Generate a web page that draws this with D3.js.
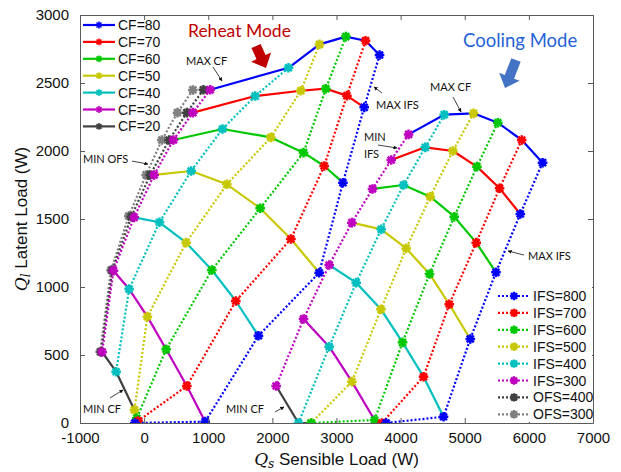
<!DOCTYPE html>
<html>
<head>
<meta charset="utf-8">
<script src="https://cdn.jsdelivr.net/npm/d3@7"></script>
<style>
  body { margin: 0; background: #fff; }
  svg { display: block; }
</style>
</head>
<body>
<svg id="chart"></svg>
<script>
// CF levels, same order as the points in every series below
const cfLevels = [80, 70, 60, 50, 40, 30, 20];

// Reheat mode: [Qs, Ql] for CF=80 ... CF=20
const reheatOFS300 = [[760, 2449], [520, 2282], [276, 2081], [31, 1824], [-240, 1522], [-515, 1125], [-686, 524]];
const reheatOFS400 = [[925, 2450], [666, 2282], [390, 2081], [94, 1824], [-200, 1517], [-497, 1122], [-670, 524]];
const reheatIFS300 = [[1030, 2450], [760, 2282], [457, 2081], [156, 1824], [-156, 1512], [-479, 1120], [-655, 522]];
const reheatIFS400 = [[2251, 2612], [1732, 2404], [1222, 2162], [733, 1853], [239, 1476], [-234, 985], [-437, 377]];
const reheatIFS500 = [[2735, 2784], [2444, 2443], [1976, 2100], [1290, 1755], [655, 1326], [51, 782], [-151, 96]];
const reheatIFS600 = [[3146, 2841], [2834, 2458], [2486, 1988], [1810, 1579], [1056, 1125], [343, 542], [-115, 35]];
const reheatIFS700 = [[3453, 2811], [3162, 2407], [2808, 1890], [2289, 1353], [1430, 897], [666, 272], [-95, 15]];
const reheatIFS800 = [[3671, 2706], [3432, 2321], [3100, 1767], [2730, 1105], [1783, 642], [952, 10], [-145, 0]];

// Cooling mode: [Qs, Ql] for CF=80 ... CF=20 (null = not shown)
const coolIFS300 = [[4124, 2122], [3853, 1934], [3562, 1721], [3240, 1473], [2886, 1162], [2486, 765], [2059, 272]];
const coolIFS400 = [[4680, 2267], [4384, 2027], [4046, 1750], [3697, 1424], [3307, 1032], [2886, 561], [2407, 0]];
const coolIFS500 = [[5137, 2277], [4815, 2000], [4462, 1664], [4087, 1284], [3693, 836], [3240, 304], [2605, 0]];
const coolIFS600 = [[5515, 2208], [5190, 1885], [4836, 1517], [4451, 1096], [4030, 593], [3593, 22], [2605, 0]];
const coolIFS700 = [[5889, 2081], [5543, 1726], [5179, 1326], [4758, 873], [4357, 340], [3708, 0], null];
const coolIFS800 = [[6214, 1914], [5866, 1537], [5487, 1108], [5086, 618], [4669, 46], [3775, 0], null];

const xTicks = [-1000, 0, 1000, 2000, 3000, 4000, 5000, 6000, 7000];
const yTicks = [0, 500, 1000, 1500, 2000, 2500, 3000];

const cfNames = cfLevels.map(c => 'CF=' + c);
const fanNames = ['IFS=800', 'IFS=700', 'IFS=600', 'IFS=500', 'IFS=400', 'IFS=300', 'OFS=400', 'OFS=300'];
const palette = ['#0000ff', '#ff0000', '#00c800', '#c8c800', '#00bfbf', '#bf00bf', '#404040', '#808080'];

// annotations, anchored in data units
const notes = [
  { text: 'MAX CF', at: [653, 2632], from: [1074, 2618], to: [1214, 2515] },
  { text: 'MAX IFS', at: [3616, 2309], from: [3710, 2426], to: [3585, 2471] },
  { text: 'MIN', at: [3429, 2074], from: [3647, 2044], to: [3944, 2022] },
  { text: 'IFS', at: [3429, 1949] },
  { text: 'MAX CF', at: [4458, 2441], from: [4817, 2397], to: [4942, 2287] },
  { text: 'MAX IFS', at: [5987, 1199], from: [5924, 1235], to: [5675, 1265] },
  { text: 'MIN OFS', at: [-953, 1912], from: [-189, 1926], to: [60, 1904] },
  { text: 'MIN CF', at: [-953, 74], from: [-532, 184], to: [-329, 243] },
  { text: 'MIN CF', at: [1277, 74], from: [2041, 81], to: [2181, 118] }
];
const modes = [
  { text: 'Reheat Mode', at: [684, 2838], size: 17.5, color: '#c00000', base: [1745, 2772], tip: [1901, 2610] },
  { text: 'Cooling Mode', at: [4973, 2765], size: 18.5, color: '#1f62d8', arrow: '#4472c4', base: [5799, 2669], tip: [5628, 2463] }
];

const W = 621, H = 472;
const margin = { top: 15, right: 28, bottom: 49, left: 80 };

const svg = d3.select('#chart').attr('width', W).attr('height', H)
  .style('font-family', '"Liberation Sans", Arial, sans-serif');

const x = d3.scaleLinear().domain([-1000, 7000]).range([margin.left, W - margin.right]);
const y = d3.scaleLinear().domain([0, 3000]).range([H - margin.bottom, margin.top]);

svg.append('defs').append('clipPath').attr('id', 'plot')
  .append('rect')
  .attr('x', x(-1000)).attr('y', y(3000))
  .attr('width', x(7000) - x(-1000)).attr('height', y(0) - y(3000));

const line = d3.line().x(d => x(d[0])).y(d => y(d[1]));

function star(cx, cy, r) {
  const k = r * 0.72;
  return `M${cx - r},${cy}L${cx + r},${cy}M${cx},${cy - r}L${cx},${cy + r}` +
    `M${cx - k},${cy - k}L${cx + k},${cy + k}M${cx - k},${cy + k}L${cx + k},${cy - k}`;
}

const plot = svg.append('g').attr('clip-path', 'url(#plot)');

// solid CF lines (through IFS=300 ... IFS=800)
const reheatIFS = [reheatIFS300, reheatIFS400, reheatIFS500, reheatIFS600, reheatIFS700, reheatIFS800];
const coolIFS = [coolIFS300, coolIFS400, coolIFS500, coolIFS600, coolIFS700, coolIFS800];
const coolCFLen = [6, 6, 6, 6, 6, 6, 4];

cfLevels.forEach((cf, i) => {
  const rh = reheatIFS.map(s => s[i]);
  const cl = coolIFS.slice(0, coolCFLen[i]).map(s => s[i]).filter(p => p);
  [rh, cl].forEach(pts => {
    plot.append('path')
      .attr('d', line(pts))
      .attr('fill', 'none')
      .attr('stroke', palette[i])
      .attr('stroke-width', 2.2)
      .attr('stroke-linejoin', 'round');
  });
});

// dotted IFS / OFS lines with markers; colour index follows fanNames
const fanSeries = [
  { pts: reheatOFS300, c: 7 }, { pts: reheatOFS400, c: 6 },
  { pts: reheatIFS300, c: 5 }, { pts: coolIFS300, c: 5 },
  { pts: reheatIFS400, c: 4 }, { pts: coolIFS400, c: 4 },
  { pts: reheatIFS500, c: 3 }, { pts: coolIFS500, c: 3 },
  { pts: reheatIFS600, c: 2 }, { pts: coolIFS600, c: 2 },
  { pts: reheatIFS700, c: 1 }, { pts: coolIFS700, c: 1 },
  { pts: reheatIFS800, c: 0 }, { pts: coolIFS800, c: 0 }
];

fanSeries.forEach(s => {
  const pts = s.pts.filter(p => p);
  const g = plot.append('g');
  g.append('path')
    .attr('d', line(pts))
    .attr('fill', 'none')
    .attr('stroke', palette[s.c])
    .attr('stroke-width', 2.2)
    .attr('stroke-dasharray', '2,2');
  g.selectAll('path.mk')
    .data(pts)
    .enter()
    .append('path')
    .attr('class', 'mk')
    .attr('d', d => star(x(d[0]), y(d[1]), 4.8))
    .attr('stroke', palette[s.c])
    .attr('stroke-width', 2.5)
    .attr('fill', 'none');
});

// axes box, ticks pointing inwards
const axisColor = '#5a5a5a';
const fmt = d => String(d);
function styleAxis(g) {
  g.select('.domain').attr('stroke', axisColor);
  g.selectAll('.tick line').attr('stroke', axisColor);
  g.selectAll('.tick text').attr('fill', '#111').style('font-size', '15px')
    .style('font-family', '"Liberation Sans", Arial, sans-serif');
}
svg.append('g').attr('transform', `translate(0,${y(0)})`)
  .call(d3.axisBottom(x).tickValues(xTicks).tickFormat(fmt).tickSizeInner(-5).tickSizeOuter(0).tickPadding(9))
  .call(styleAxis);
svg.append('g').attr('transform', `translate(0,${y(3000)})`)
  .call(d3.axisTop(x).tickValues(xTicks).tickFormat('').tickSizeInner(-5).tickSizeOuter(0))
  .call(styleAxis);
svg.append('g').attr('transform', `translate(${x(-1000)},0)`)
  .call(d3.axisLeft(y).tickValues(yTicks).tickFormat(fmt).tickSizeInner(-5).tickSizeOuter(0).tickPadding(11))
  .call(styleAxis);
svg.append('g').attr('transform', `translate(${x(7000)},0)`)
  .call(d3.axisRight(y).tickValues(yTicks).tickFormat('').tickSizeInner(-5).tickSizeOuter(0))
  .call(styleAxis);
svg.selectAll('.domain').attr('fill', 'none');

// axis titles
const xl = svg.append('text')
  .attr('x', (x(-1000) + x(7000)) / 2).attr('y', 465)
  .attr('text-anchor', 'middle').style('font-size', '17px').attr('fill', '#111');
xl.append('tspan').text('Q').style('font-family', '"DejaVu Serif", serif').style('font-style', 'italic');
xl.append('tspan').text('s').attr('dy', 3).style('font-size', '12px')
  .style('font-family', '"DejaVu Serif", serif').style('font-style', 'italic');
xl.append('tspan').text(' Sensible Load (W)').attr('dy', -3);

const yl = svg.append('text')
  .attr('transform', `translate(27,${(y(0) + y(3000)) / 2}) rotate(-90)`)
  .attr('text-anchor', 'middle').style('font-size', '17px').attr('fill', '#111');
yl.append('tspan').text('Q').style('font-family', '"DejaVu Serif", serif').style('font-style', 'italic');
yl.append('tspan').text('l').attr('dy', 3).style('font-size', '12px')
  .style('font-family', '"DejaVu Serif", serif').style('font-style', 'italic');
yl.append('tspan').text(' Latent Load (W)').attr('dy', -3);

// legends
function legend(names, colors, x0, y0, dotted) {
  const g = svg.append('g');
  names.forEach((n, i) => {
    const yy = y0 + i * 16.9;
    g.append('line')
      .attr('x1', x0).attr('x2', x0 + 32).attr('y1', yy).attr('y2', yy)
      .attr('stroke', colors[i]).attr('stroke-width', 2.2)
      .attr('stroke-dasharray', dotted ? '2,2' : null);
    g.append('path')
      .attr('d', star(x0 + 16, yy, dotted ? 4.2 : 3.4))
      .attr('stroke', colors[i]).attr('stroke-width', dotted ? 2.4 : 1.6).attr('fill', 'none');
    g.append('text')
      .attr('x', x0 + 35).attr('y', yy).attr('dy', '0.36em')
      .style('font-size', '14px').attr('fill', '#111').text(n);
  });
}
legend(cfNames, palette, 83, 25, false);
svg.append('rect').attr('x', 495).attr('y', 286).attr('width', 97).attr('height', 136).attr('fill', '#fff');
legend(fanNames, palette, 498, 296, true);

// annotations
svg.append('defs').append('marker')
  .attr('id', 'ah').attr('viewBox', '0 0 10 10').attr('refX', 9).attr('refY', 5)
  .attr('markerWidth', 5).attr('markerHeight', 5).attr('orient', 'auto')
  .append('path').attr('d', 'M0,0L10,5L0,10z').attr('fill', '#111');

notes.forEach(n => {
  svg.append('text')
    .attr('x', x(n.at[0])).attr('y', y(n.at[1]))
    .style('font-family', 'Lato, "Open Sans", sans-serif').style('font-size', '11px')
    .attr('fill', '#111').text(n.text);
  if (n.from) {
    svg.append('line')
      .attr('x1', x(n.from[0])).attr('y1', y(n.from[1]))
      .attr('x2', x(n.to[0])).attr('y2', y(n.to[1]))
      .attr('stroke', '#111').attr('stroke-width', 0.8)
      .attr('marker-end', 'url(#ah)');
  }
});

function blockArrow(b, t, shaft, head, headLen) {
  const x1 = x(b[0]), y1 = y(b[1]), x2 = x(t[0]), y2 = y(t[1]);
  const len = Math.hypot(x2 - x1, y2 - y1);
  const ux = (x2 - x1) / len, uy = (y2 - y1) / len, px = -uy, py = ux;
  const hx = x2 - ux * headLen, hy = y2 - uy * headLen;
  const p = [
    [x1 + px * shaft / 2, y1 + py * shaft / 2],
    [hx + px * shaft / 2, hy + py * shaft / 2],
    [hx + px * head / 2, hy + py * head / 2],
    [x2, y2],
    [hx - px * head / 2, hy - py * head / 2],
    [hx - px * shaft / 2, hy - py * shaft / 2],
    [x1 - px * shaft / 2, y1 - py * shaft / 2]
  ];
  return 'M' + p.map(q => q.join(',')).join('L') + 'Z';
}

modes.forEach(m => {
  svg.append('text')
    .attr('x', x(m.at[0])).attr('y', y(m.at[1]))
    .style('font-family', 'Lato, "Open Sans", sans-serif').style('font-size', m.size + 'px')
    .attr('fill', m.color).text(m.text);
  svg.append('path')
    .attr('d', blockArrow(m.base, m.tip, 10, 22, 12))
    .attr('fill', m.arrow || m.color);
});
</script>
</body>
</html>
